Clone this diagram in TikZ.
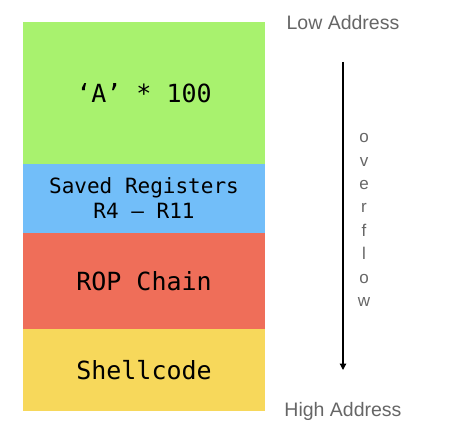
\documentclass[tikz,border=0pt]{standalone}
\usepackage{fontspec}
\setmainfont{Liberation Sans}
\newfontfamily\stackmono{DejaVu Sans Mono}
\usetikzlibrary{arrows.meta,positioning}
\definecolor{padgreen}{HTML}{A8F26E}
\definecolor{regblue}{HTML}{72BEF9}
\definecolor{ropred}{HTML}{EF6E59}
\definecolor{codeyel}{HTML}{F7D85B}
\definecolor{addrgray}{HTML}{666666}

\begin{document}
\begin{tikzpicture}[
  x=1pt, y=-1pt,
  node distance=0pt,
  every node/.style={inner sep=0pt, outer sep=0pt},
  blk/.style ={minimum width=242pt, align=center,
               font=\stackmono\fontsize{25}{25}\selectfont},
  regs/.style={blk, fill=regblue,
               font=\stackmono\fontsize{21}{25}\selectfont},
  addr/.style={font=\fontsize{19.5}{19.5}\selectfont, text=addrgray},
  ovf/.style ={align=center, text=addrgray,
               font=\fontsize{17}{23.4}\selectfont},
  arr/.style ={-{Triangle[length=6.5pt,width=6.5pt]}, line width=1.3pt}
]
\useasboundingbox (0,0) rectangle (462,435);

%% --- stack layout -----------------------------------------------------
\node[blk, fill=padgreen, minimum height=142pt] (pad) at (144,93) {‘A’ * 100};
\node[regs, minimum height=69pt, below=of pad] (reg) {Saved Registers\\R4 – R11};
\node[blk, fill=ropred, minimum height=96pt, below=of reg] (rop) {ROP Chain};
\node[blk, fill=codeyel, minimum height=82pt, below=of rop] (shc) {Shellcode};

%% --- addresses / direction --------------------------------------------
\node[addr] (lo) at (343,23) {Low Address};
\node[addr] (hi) at (343,411) {High Address};
\coordinate (ovtop) at (343,62);
\coordinate (ovbot) at (343,370);
\draw[arr] (ovtop) -- (ovbot);
\node[ovf] (ovtxt) at (364,220) {o\\v\\e\\r\\f\\l\\o\\w};

\end{tikzpicture}
\end{document}
